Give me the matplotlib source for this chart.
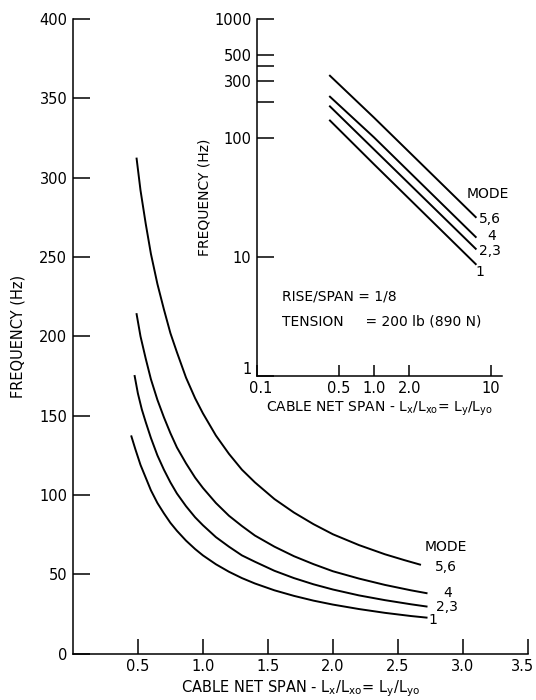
import matplotlib.pyplot as plt
from matplotlib.ticker import FixedLocator, NullLocator
from matplotlib.transforms import ScaledTranslation

plt.rcParams['font.family'] = 'DejaVu Sans'

# Natural frequency vs. cable net span, one curve per mode group
modes = ['1', '2,3', '4', '5,6']
spans = {
    '1':   [0.45, 0.48, 0.52, 0.56, 0.60, 0.65, 0.70, 0.75, 0.80, 0.87, 0.94, 1.0,
            1.1, 1.2, 1.3, 1.4, 1.55, 1.7, 1.85, 2.0, 2.2, 2.4, 2.6, 2.72],
    '2,3': [0.475, 0.50, 0.53, 0.56, 0.60, 0.65, 0.70, 0.75, 0.80, 0.87, 0.94, 1.0,
            1.1, 1.2, 1.3, 1.4, 1.55, 1.7, 1.85, 2.0, 2.2, 2.4, 2.6, 2.72],
    '4':   [0.49, 0.52, 0.56, 0.60, 0.65, 0.70, 0.75, 0.80, 0.87, 0.94, 1.0,
            1.1, 1.2, 1.3, 1.4, 1.55, 1.7, 1.85, 2.0, 2.2, 2.4, 2.6, 2.72],
    '5,6': [0.49, 0.52, 0.56, 0.60, 0.65, 0.70, 0.75, 0.80, 0.87, 0.94, 1.0,
            1.1, 1.2, 1.3, 1.4, 1.55, 1.7, 1.85, 2.0, 2.2, 2.4, 2.55, 2.67],
}
freqs = {
    '1':   [137, 129, 119, 111, 103, 95, 88.5, 82.5, 77.5, 71.3, 66, 62,
            56.4, 51.7, 47.7, 44.3, 40, 36.5, 33.5, 31, 28.2, 25.8, 23.8, 22.8],
    '2,3': [175, 164, 154, 146, 136, 125, 116, 108, 101, 93, 86, 81,
            73.5, 67.5, 62, 58, 52.3, 47.7, 43.8, 40.5, 36.8, 33.8, 31.2, 29.8],
    '4':   [214, 200, 186, 173, 160, 149, 139, 130, 120, 111, 104.5,
            95, 87, 80.5, 74.5, 67.5, 61.5, 56.5, 52, 47.4, 43.4, 40, 38.2],
    '5,6': [312, 292, 271, 252, 233, 217, 202, 190, 174, 161, 151.5,
            137.5, 126, 116, 108, 97.5, 89, 81.7, 75.3, 68.5, 62.7, 59, 56.2],
}

# Same data on log-log axes (inset), wider span range
inset_spans = [0.42, 1.0, 7.4]
inset_freqs = {
    '1':   [140, 60, 8.7],
    '2,3': [184, 80, 11.7],
    '4':   [222, 101, 14.7],
    '5,6': [333, 148, 21.6],
}

main_xticks = [0.5, 1.0, 1.5, 2.0, 2.5, 3.0, 3.5]
main_xticklabels = ['0.5', '1.0', '1.5', '2.0', '2.5', '3.0', '3.5']
main_yticks = [0, 50, 100, 150, 200, 250, 300, 350, 400]
inset_xticks = [0.1, 0.5, 1.0, 2.0, 10]
inset_xticklabels = ['0.1', '0.5', '1.0', '2.0', '10']
inset_yticks = [1, 10, 100, 300, 500, 1000]
inset_yminor = [200, 400]

xlabel = (r'CABLE NET SPAN - L$_\mathregular{x}$/L$_\mathregular{xo}$'
          r'= L$_\mathregular{y}$/L$_\mathregular{yo}$')

fig = plt.figure(figsize=(5.36, 7.0), dpi=100)

def style_axes(ax):
    for side in ['top', 'right']:
        ax.spines[side].set_visible(False)
    for side in ['left', 'bottom']:
        ax.spines[side].set_linewidth(1.1)
    ax.tick_params(which='both', direction='in', width=1.1, labelsize=10.5, pad=4)

def nudge(label, dx, dy):
    label.set_transform(label.get_transform()
                        + ScaledTranslation(dx / 72, dy / 72, fig.dpi_scale_trans))

# main plot
ax = fig.add_axes([0.136, 0.066, 0.849, 0.907])
for m in modes:
    ax.plot(spans[m], freqs[m], color='black', lw=1.4)
ax.set_xlim(0, 3.5)
ax.set_ylim(0, 400)
ax.set_xticks(main_xticks)
ax.set_xticklabels(main_xticklabels)
ax.set_yticks(main_yticks)
style_axes(ax)
ax.tick_params(axis='y', length=12)
ax.tick_params(axis='x', length=11)
nudge(ax.get_xticklabels()[-1], -4, 0)
ax.set_xlabel(xlabel, fontsize=10.5, labelpad=3)
ax.set_ylabel('FREQUENCY (Hz)', fontsize=10.5, labelpad=10)

ax.text(2.87, 67, 'MODE', fontsize=10, ha='center', va='center')
ax.text(2.87, 55, '5,6', fontsize=10, ha='center', va='center')
ax.text(2.88, 38.5, '4', fontsize=10, ha='center', va='center')
ax.text(2.88, 29.5, '2,3', fontsize=10, ha='center', va='center')
ax.text(2.77, 21, '1', fontsize=10, ha='center', va='center')

# log-log inset
ins = fig.add_axes([0.4795, 0.463, 0.457, 0.51])
ins.patch.set_alpha(0)
for m in modes:
    ins.loglog(inset_spans, inset_freqs[m], color='black', lw=1.4)
ins.set_xlim(0.1, 12.4)
ins.set_ylim(1, 1000)
ins.xaxis.set_major_locator(FixedLocator(inset_xticks))
ins.set_xticklabels(inset_xticklabels)
ins.xaxis.set_minor_locator(NullLocator())
ins.yaxis.set_major_locator(FixedLocator(inset_yticks))
ins.set_yticklabels([str(v) for v in inset_yticks])
ins.yaxis.set_minor_locator(FixedLocator(inset_yminor))
style_axes(ins)
ins.tick_params(axis='y', which='both', length=12)
ins.tick_params(axis='x', length=8)
# corner labels: lift the "1" and shift "0.1" so they do not collide
nudge(ins.get_yticklabels()[0], 0, 6)
nudge(ins.get_xticklabels()[0], 3, 0)
ins.set_xlabel(xlabel, fontsize=10, labelpad=2)
ins.set_ylabel('FREQUENCY (Hz)', fontsize=10, labelpad=2)

ins.text(9.4, 34, 'MODE', fontsize=10, ha='center', va='center')
ins.text(9.8, 21, '5,6', fontsize=10, ha='center', va='center')
ins.text(10.2, 15.1, '4', fontsize=10, ha='center', va='center')
ins.text(9.8, 11.3, '2,3', fontsize=10, ha='center', va='center')
ins.text(8.1, 7.4, '1', fontsize=10, ha='center', va='center')
ins.text(0.164, 4.67, 'RISE/SPAN = 1/8', fontsize=10, ha='left', va='center')
ins.text(0.164, 2.89, 'TENSION     = 200 lb (890 N)', fontsize=10, ha='left', va='center')

fig.savefig('out.png', dpi=100)
